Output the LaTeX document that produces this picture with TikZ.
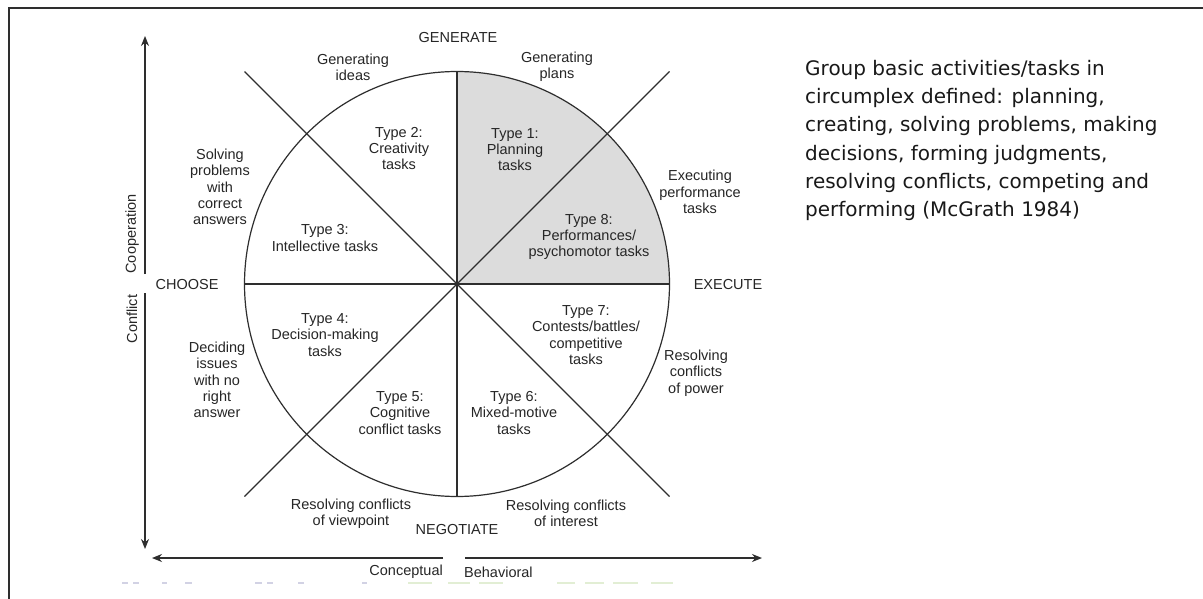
\documentclass[tikz,border=0pt]{standalone}
\usepackage{fontspec}
\setmainfont{Liberation Sans}
\newfontfamily\notefont{DejaVu Sans}
\usetikzlibrary{arrows.meta}
\definecolor{linecol}{HTML}{2E2E2E}
\definecolor{sectgray}{HTML}{DCDCDC}
\definecolor{fblue}{HTML}{D2D2E4}
\definecolor{fgreen}{HTML}{E2EED4}
\begin{document}
\begin{tikzpicture}[x=1pt,y=-1pt,
  lbl/.style={font=\fontsize{14.5}{16.3}\selectfont, align=center, inner sep=0pt, text=black!85},
  ln/.style={draw=linecol, line width=1.2pt},
  axis/.style={draw=linecol, line width=1.4pt},
  tip/.style={-{Stealth[length=10pt,width=8pt]}},
  faint/.style={line width=2pt}]
\useasboundingbox (0,0) rectangle (1203,599);
\fill[white] (0,0) rectangle (1203,599);
% frame
\draw[linecol, line width=2pt] (9,599) -- (9,8) -- (1203,8);
% circumplex geometry
\coordinate (c) at (457,284);
\coordinate (E) at (669.5,284);
\coordinate (W) at (244.5,284);
\coordinate (N) at (457,71.5);
\coordinate (S) at (457,496.5);
\coordinate (NE) at (669.5,71.5);
\coordinate (NW) at (244.5,71.5);
\coordinate (SE) at (669.5,496.5);
\coordinate (SW) at (244.5,496.5);
\fill[sectgray] (c) -- (E) arc[start angle=0, end angle=-90, radius=212.5] -- cycle;
\draw[ln] (c) circle[radius=212.5];
\draw[ln] (W) -- (E);
\draw[ln] (N) -- (S);
\draw[ln] (NW) -- (SE);
\draw[ln] (SW) -- (NE);
% axes
\coordinate (vtop) at (145,36);
\coordinate (vm1) at (145,274);
\coordinate (vm2) at (145,293);
\coordinate (vbot) at (145,549);
\coordinate (hl) at (152,558);
\coordinate (hm1) at (443,558);
\coordinate (hm2) at (465,558);
\coordinate (hr) at (762,558);
\draw[axis,tip] (vm1) -- (vtop);
\draw[axis,tip] (vm2) -- (vbot);
\draw[axis,tip] (hm1) -- (hl);
\draw[axis,tip] (hm2) -- (hr);
% labels
\node[lbl] (gen) at (458,38) {GENERATE};
\node[lbl] (gi) at (353,67.5) {Generating\\ideas};
\node[lbl] (gp) at (557,66.5) {Generating\\plans};
\node[lbl] (t2) at (399,148.5) {Type 2:\\Creativity\\tasks};
\node[lbl] (t1) at (515,149.5) {Type 1:\\Planning\\tasks};
\node[lbl] (sp) at (220,187) {Solving\\problems\\with\\correct\\answers};
\node[lbl] (t3) at (325,238) {Type 3:\\Intellective tasks};
\node[lbl] (ep) at (700,192) {Executing\\performance\\tasks};
\node[lbl] (t8) at (589,237) {Type 8:\\Performances/\\psychomotor tasks};
\node[lbl] (choose) at (187,285) {CHOOSE};
\node[lbl] (exec) at (728,285) {EXECUTE};
\node[lbl] (t4) at (325,335) {Type 4:\\Decision-making\\tasks};
\node[lbl] (di) at (217,380) {Deciding\\issues\\with no\\right\\answer};
\node[lbl] (t7) at (586,335) {Type 7:\\Contests/battles/\\competitive\\tasks};
\node[lbl] (rp) at (696,373) {Resolving\\conflicts\\of power};
\node[lbl] (t5) at (400,413) {Type 5:\\Cognitive\\conflict tasks};
\node[lbl] (t6) at (514,413) {Type 6:\\Mixed-motive\\tasks};
\node[lbl] (rv) at (351,513.5) {Resolving conflicts\\of viewpoint};
\node[lbl] (ri) at (566,513) {Resolving conflicts\\of interest};
\node[lbl] (neg) at (457,530) {NEGOTIATE};
\node[lbl,anchor=east] (conc) at (443,572) {Conceptual};
\node[lbl,anchor=west] (beh) at (464,572) {Behavioral};
\node[lbl,rotate=90] (coop) at (132,234) {Cooperation};
\node[lbl,rotate=90] (confl) at (132,319) {Conflict};
% note
\node[anchor=north west, inner sep=0pt, align=left, text=black!90,
      font=\notefont\fontsize{20}{28.3}\selectfont] (note) at (805,60)
  {Group basic activities/tasks in\\circumplex defined: planning,\\creating, solving problems, making\\decisions, forming judgments,\\resolving conflicts, competing and\\performing (McGrath 1984)};
% faint artefacts along the bottom
\foreach \a/\b in {122/128,133/139,162/167,185/192,255/262,267/273,298/304,362/367}
  \draw[faint, fblue] (\a,583) -- (\b,583);
\foreach \a/\b in {408/432,448/470,479/503,557/575,585/604,613/638,651/673}
  \draw[faint, fgreen] (\a,583) -- (\b,583);
\end{tikzpicture}
\end{document}
